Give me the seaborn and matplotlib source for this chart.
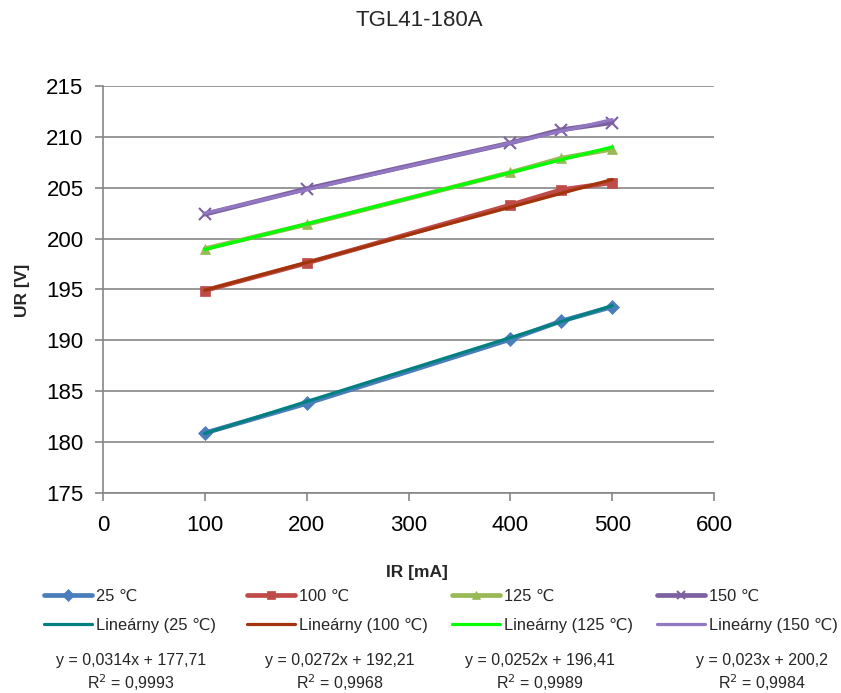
import numpy as np
import pandas as pd
import matplotlib
matplotlib.use("Agg")
import matplotlib.pyplot as plt
import seaborn as sns
from matplotlib.lines import Line2D

# ---- data ----
ir_ma = [100, 200, 400, 450, 500]
ur_25 = [180.9, 183.8, 190.1, 191.9, 193.3]
ur_100 = [194.9, 197.6, 203.3, 204.8, 205.5]
ur_125 = [199.0, 201.4, 206.5, 207.9, 208.8]
ur_150 = [202.4, 204.9, 209.4, 210.7, 211.4]
series_names = ["25 \u2103", "100 \u2103", "125 \u2103", "150 \u2103"]
slopes = [0.0314, 0.0272, 0.0252, 0.023]
intercepts = [177.71, 192.21, 196.41, 200.2]
eq_texts = ["y = 0,0314x + 177,71", "y = 0,0272x + 192,21",
            "y = 0,0252x + 196,41", "y = 0,023x + 200,2"]
r2_texts = ["0,9993", "0,9968", "0,9989", "0,9984"]
trend_x = [100, 500]
title = "TGL41-180A"

sns.set_style("white")
plt.rcParams['font.family'] = ['Liberation Sans', 'DejaVu Sans']

data_colors = ["#4A7EBB", "#BE4B48", "#98B954", "#7D60A0"]
markers = ["D", "s", "^", "x"]
trend_colors = ["#00807F", "#A3330B", "#00FF00", "#9278C2"]

fig = plt.figure(figsize=(8.41, 6.93), dpi=100)
ax = fig.add_axes([103/841, 1-493/693, (714-103)/841, (493-86)/693])

all_vals = [ur_25, ur_100, ur_125, ur_150]
df = pd.DataFrame({
    "IR": ir_ma * 4,
    "UR": sum(all_vals, []),
    "series": sum([[n]*len(ir_ma) for n in series_names], []),
})

col_handles = []
for i, name in enumerate(series_names):
    sub = df[df["series"] == name]
    sns.lineplot(data=sub, x="IR", y="UR", ax=ax, color=data_colors[i],
                 marker=markers[i], markersize=7 if markers[i] != "x" else 8,
                 markeredgewidth=1.5 if markers[i] == "x" else 0.5,
                 markeredgecolor=data_colors[i],
                 linewidth=3.4, legend=False, zorder=3)
    tx = np.array(trend_x, dtype=float)
    ty = slopes[i] * tx + intercepts[i]
    sns.lineplot(x=tx, y=ty, ax=ax, color=trend_colors[i], linewidth=2.3,
                 legend=False, zorder=4)
    h1 = Line2D([0], [0], color=data_colors[i], marker=markers[i],
                lw=3.4, markersize=6, markeredgewidth=1.5 if markers[i] == "x" else 0.5,
                markeredgecolor=data_colors[i], label=name)
    h2 = Line2D([0], [0], color=trend_colors[i], lw=2.3,
                label="Line\u00e1rny (%s)" % name)
    col_handles.append([h1, h2])

ax.set_xlim(0, 600)
ax.set_ylim(175, 215)
ax.set_xticks(range(0, 601, 100))
ax.set_yticks(range(175, 216, 5))
ax.yaxis.grid(True, color="#868686", linewidth=1.2)
ax.xaxis.grid(False)
ax.set_axisbelow(True)
for s in ["top", "right"]:
    ax.spines[s].set_visible(False)
for s in ["left", "bottom"]:
    ax.spines[s].set_color("#868686")
    ax.spines[s].set_linewidth(1.2)
ax.tick_params(axis="both", direction="out", length=6, width=1.2,
               color="#868686", labelsize=16, labelcolor="black",
               bottom=True, left=True)
ax.tick_params(axis="x", pad=10)
ax.tick_params(axis="y", pad=8)

ax.set_xlabel("")
ax.set_ylabel("")
fig.text(417/841, 1-572/693, "IR [mA]", ha="center", va="center",
         fontsize=12.5, fontweight="bold")
fig.text(22/841, 1-290/693, "UR [V]", ha="center", va="center",
         rotation=90, fontsize=12.5, fontweight="bold")
fig.text(419/841, 1-21/693, title, ha="center", va="center", fontsize=16)

leg_x = [44, 247, 452, 657]
for i in range(4):
    lg = fig.legend(handles=col_handles[i], loc="upper left", ncol=1,
                    bbox_to_anchor=(leg_x[i]/841, 1-589/693), frameon=False,
                    fontsize=11.8, handlelength=2.9, handletextpad=0.3,
                    labelspacing=0.85, borderaxespad=0, borderpad=0)

eq_x = [131, 340, 540, 762]
for i in range(4):
    fig.text(eq_x[i]/841, 1-660/693, eq_texts[i], ha="center", va="center",
             fontsize=11.5)
    fig.text(eq_x[i]/841, 1-683/693, "R$^2$ = " + r2_texts[i], ha="center",
             va="center", fontsize=11.5)

fig.savefig("out.png", dpi=100)
